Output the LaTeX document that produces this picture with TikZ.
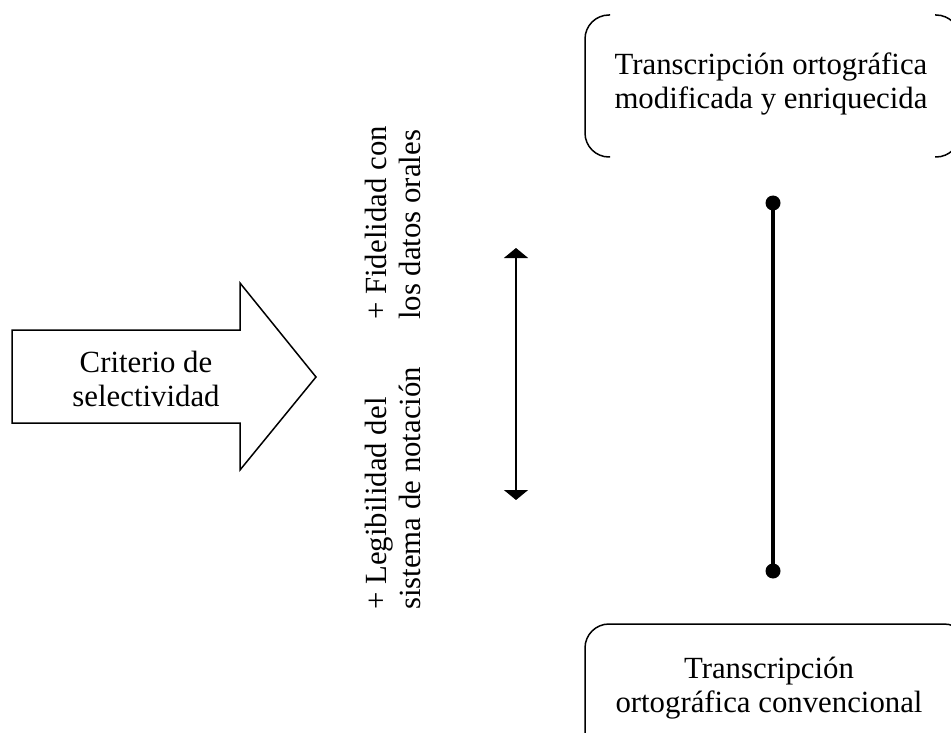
\documentclass[tikz,border=0pt]{standalone}
\usepackage{fontspec}
\setmainfont{Liberation Serif}
\usetikzlibrary{arrows.meta}

\begin{document}
\begin{tikzpicture}[x=1pt,y=-1pt,
  label text/.style={font=\fontsize{30.8}{34.5}\selectfont,align=center,inner sep=0pt},
  side text/.style={label text,align=left,rotate=90,anchor=west},
  frame line/.style={line width=1.5pt,rounded corners=24pt}]
  \useasboundingbox (0,0) rectangle (951,733);
  \clip (0,0) rectangle (951,733);
  % flecha del criterio
  \draw[line width=1.5pt,line join=miter] (12,330) -- (240,330) -- (240,283) -- (316,377)
    -- (240,470) -- (240,423) -- (12,423) -- cycle;
  \node[label text] (criterio) at (146,379) {Criterio de\\selectividad};
  % textos girados
  \node[side text] (fidelidad) at (393,320) {+ Fidelidad con\\los datos orales};
  \node[side text] (legibilidad) at (393,610) {+ Legibilidad del\\sistema de notaci\'on};
  \coordinate (escalaTop) at (516,248);
  \coordinate (escalaBot) at (516,500);
  \draw[line width=1.5pt,{Triangle[width=24pt,length=10pt]}-{Triangle[width=24pt,length=10pt]}]
    (escalaTop) -- (escalaBot);
  % recuadros
  \draw[frame line] (610,15) -- (585,15) -- (585,157) -- (610,157);
  \draw[frame line] (935,15) -- (960,15) -- (960,157) -- (935,157);
  \node[label text] (enriquecida) at (771,84) {Transcripci\'on ortogr\'afica\\modificada y enriquecida};
  \draw[frame line] (585,624) rectangle (968,770);
  \node[label text] (convencional) at (769,688) {Transcripci\'on\\ortogr\'afica convencional};
  % linea con extremos
  \coordinate (polo1) at (773,203);
  \coordinate (polo2) at (773,571);
  \draw[line width=3.5pt] (polo1) -- (polo2);
  \foreach \p in {polo1,polo2}
    \fill (\p) circle (7.5);
\end{tikzpicture}
\end{document}
